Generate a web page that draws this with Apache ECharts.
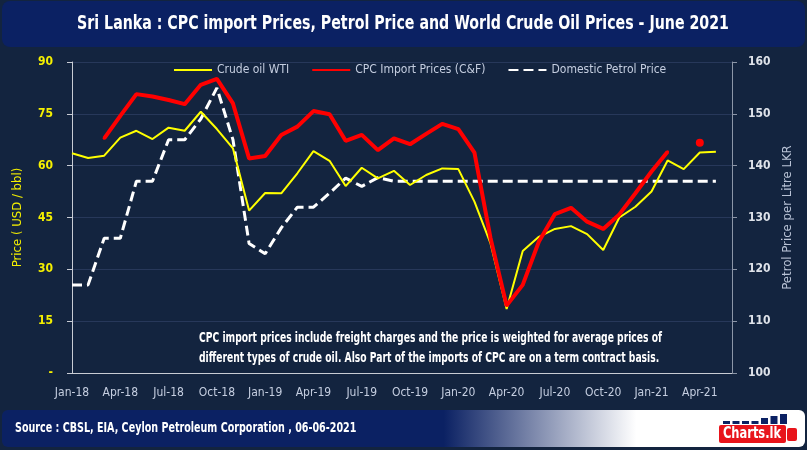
<!DOCTYPE html>
<html><head><meta charset="utf-8">
<script src="https://cdn.jsdelivr.net/npm/echarts@6/dist/echarts.min.js"></script>
<style>html,body{margin:0;padding:0;background:#13243f;}#c{width:807px;height:450px;}</style>
</head><body><div id="c"></div>
<script>
const FONT = "'DejaVu Sans Condensed','Liberation Sans Narrow',sans-serif";

const months = [
  'Jan-18','Feb-18','Mar-18','Apr-18','May-18','Jun-18','Jul-18','Aug-18','Sep-18','Oct-18','Nov-18','Dec-18',
  'Jan-19','Feb-19','Mar-19','Apr-19','May-19','Jun-19','Jul-19','Aug-19','Sep-19','Oct-19','Nov-19','Dec-19',
  'Jan-20','Feb-20','Mar-20','Apr-20','May-20','Jun-20','Jul-20','Aug-20','Sep-20','Oct-20','Nov-20','Dec-20',
  'Jan-21','Feb-21','Mar-21','Apr-21','May-21','Jun-21'
];

// Crude oil WTI (USD / bbl)
const wti = [
  63.6, 62.2, 62.9, 68.1, 70.1, 67.7, 71.0, 70.1, 75.6, 70.6, 65.0, 47.0,
  52.1, 52.0, 57.8, 64.2, 61.4, 54.1, 59.4, 56.3, 58.5, 54.4, 57.3, 59.2,
  59.0, 49.6, 37.5, 18.5, 35.3, 39.4, 41.7, 42.5, 40.2, 35.6, 45.0, 48.1,
  52.5, 61.5, 59.0, 63.8, 64.0, null
];

// CPC import prices (C&F) (USD / bbl)
const cpc = [
  null, null, 67.9, 74.4, 80.7, 80.0, 79.0, 77.8, 83.4, 85.1, 78.0, 62.1,
  62.8, 68.9, 71.3, 75.8, 74.9, 67.2, 68.9, 64.5, 67.9, 66.2, 69.2, 72.1,
  70.6, 63.8, 39.0, 19.5, 25.5, 38.0, 46.0, 47.8, 43.8, 41.7, 45.9, 52.0,
  58.3, 64.0, null, 66.6, null, null
];

// Domestic petrol price (LKR per litre)
const petrol = [
  117, 117, 126, 126, 137, 137, 145, 145, 149, 155, 145, 125,
  123, 128, 132, 132, 134.7, 137.6, 136, 137.7, 137, 137, 137, 137,
  137, 137, 137, 137, 137, 137, 137, 137, 137, 137, 137, 137,
  137, 137, 137, 137, 137, null
];

const titleText = 'Sri Lanka : CPC import Prices, Petrol Price and World Crude Oil Prices - June 2021';
const noteLines = [
  'CPC import prices include freight charges and the price is weighted for average prices of',
  'different types of crude oil. Also Part of the imports of CPC are on a term contract basis.'
];
const sourceText = 'Source : CBSL, EIA, Ceylon Petroleum Corporation , 06-06-2021';
const logoBars = [3, 3, 3, 3, 6, 8, 10];

const chart = echarts.init(document.getElementById('c'), null, {renderer: 'canvas'});

const graphics = [
  {type: 'rect', shape: {x: 2, y: 1, width: 803, height: 46, r: 8}, style: {fill: '#0b2163'}, z: 0},
  {type: 'text', x: 403, y: 24, scaleX: 0.83, style: {text: titleText, fill: '#ffffff', font: 'bold 19px ' + FONT, align: 'center', verticalAlign: 'middle'}},
  {type: 'text', x: 199, y: 338, scaleX: 0.73, style: {text: noteLines[0], fill: '#ffffff', font: 'bold 14px ' + FONT, align: 'left', verticalAlign: 'middle'}},
  {type: 'text', x: 199, y: 358, scaleX: 0.73, style: {text: noteLines[1], fill: '#ffffff', font: 'bold 14px ' + FONT, align: 'left', verticalAlign: 'middle'}},
  {type: 'rect', shape: {x: 2, y: 410, width: 803, height: 37, r: 6},
    style: {fill: new echarts.graphic.LinearGradient(0, 0, 1, 0, [
      {offset: 0, color: '#0b2163'}, {offset: 0.55, color: '#0b2163'},
      {offset: 0.79, color: '#ffffff'}, {offset: 1, color: '#ffffff'}])}},
  {type: 'text', x: 15, y: 428, scaleX: 0.76, style: {text: sourceText, fill: '#ffffff', font: 'bold 14px ' + FONT, align: 'left', verticalAlign: 'middle'}},
  {type: 'rect', shape: {x: 719, y: 425, width: 67, height: 18, r: 2}, style: {fill: '#e8141b'}},
  {type: 'text', x: 752, y: 434, scaleX: 0.85, style: {text: 'Charts.lk', fill: '#ffffff', font: 'bold 15px ' + FONT, align: 'center', verticalAlign: 'middle'}},
  {type: 'rect', shape: {x: 787, y: 428, width: 10, height: 13, r: 2}, style: {fill: '#e8141b'}}
];
logoBars.forEach(function (h, i) {
  graphics.push({type: 'rect', shape: {x: 723 + i * 9.5, y: 424 - h, width: 7, height: h}, style: {fill: '#0b2163'}});
});

const option = {
  backgroundColor: '#13243f',
  animation: false,
  textStyle: {fontFamily: FONT},
  grid: {left: 72, right: 75, top: 62, bottom: 77, containLabel: false},
  legend: {
    left: 168, top: 59, itemWidth: 38, itemHeight: 14, itemGap: 22,
    textStyle: {color: '#c5cee0', fontSize: 12, fontFamily: FONT},
    data: [
      {name: 'Crude oil WTI', itemStyle: {opacity: 0}},
      {name: 'CPC Import Prices (C&F)', itemStyle: {opacity: 0}},
      {name: 'Domestic Petrol Price', itemStyle: {opacity: 0}}
    ]
  },
  xAxis: {
    type: 'category', data: months, boundaryGap: false,
    axisLine: {lineStyle: {color: '#c8ccd4', width: 1}},
    axisTick: {show: false},
    axisLabel: {interval: 2, color: '#c5cee0', fontSize: 12, fontFamily: FONT, margin: 14},
    splitLine: {show: false}
  },
  yAxis: [
    {
      type: 'value', min: 0, max: 90, interval: 15, position: 'left',
      name: 'Price ( USD / bbl)', nameLocation: 'middle', nameGap: 48,
      nameTextStyle: {color: '#f5f000', fontSize: 13, fontFamily: FONT},
      axisLine: {show: true, lineStyle: {color: '#c8ccd4'}},
      axisTick: {show: true, length: 5, lineStyle: {color: '#c8ccd4'}},
      axisLabel: {color: '#f5f000', fontSize: 12, fontWeight: 'bold', fontFamily: FONT, margin: 19,
        formatter: function (v) { return v === 0 ? '-' : String(v); }},
      splitLine: {show: true, lineStyle: {color: '#27385a', width: 1}}
    },
    {
      type: 'value', min: 100, max: 160, interval: 10, position: 'right',
      name: 'Petrol Price per Litre LKR', nameLocation: 'middle', nameGap: 39,
      nameTextStyle: {color: '#b9c3d6', fontSize: 13, fontFamily: FONT},
      axisLine: {show: true, lineStyle: {color: '#8c96a8'}},
      axisTick: {show: true, length: 5, lineStyle: {color: '#8c96a8'}},
      axisLabel: {color: '#dfe3ea', fontSize: 12, fontWeight: 'bold', fontFamily: FONT, margin: 16},
      splitLine: {show: false}
    }
  ],
  series: [
    {
      name: 'Crude oil WTI', type: 'line', data: wti, yAxisIndex: 0,
      symbol: 'none', lineStyle: {color: '#ffff00', width: 2}, itemStyle: {color: '#ffff00'}, z: 3
    },
    {
      name: 'CPC Import Prices (C&F)', type: 'line', data: cpc, yAxisIndex: 0,
      symbol: 'circle', showSymbol: true, showAllSymbol: true,
      symbolSize: function (v, p) {
        const i = p.dataIndex;
        return (cpc[i - 1] == null && cpc[i + 1] == null) ? 8 : 3;
      },
      lineStyle: {color: '#ff0000', width: 4}, itemStyle: {color: '#ff0000'}, z: 4
    },
    {
      name: 'Domestic Petrol Price', type: 'line', data: petrol, yAxisIndex: 1,
      symbol: 'none', lineStyle: {color: '#ffffff', width: 3, type: [10, 5]}, itemStyle: {color: '#ffffff'}, z: 2
    }
  ],
  graphic: graphics
};
chart.setOption(option);
</script>
</body></html>
